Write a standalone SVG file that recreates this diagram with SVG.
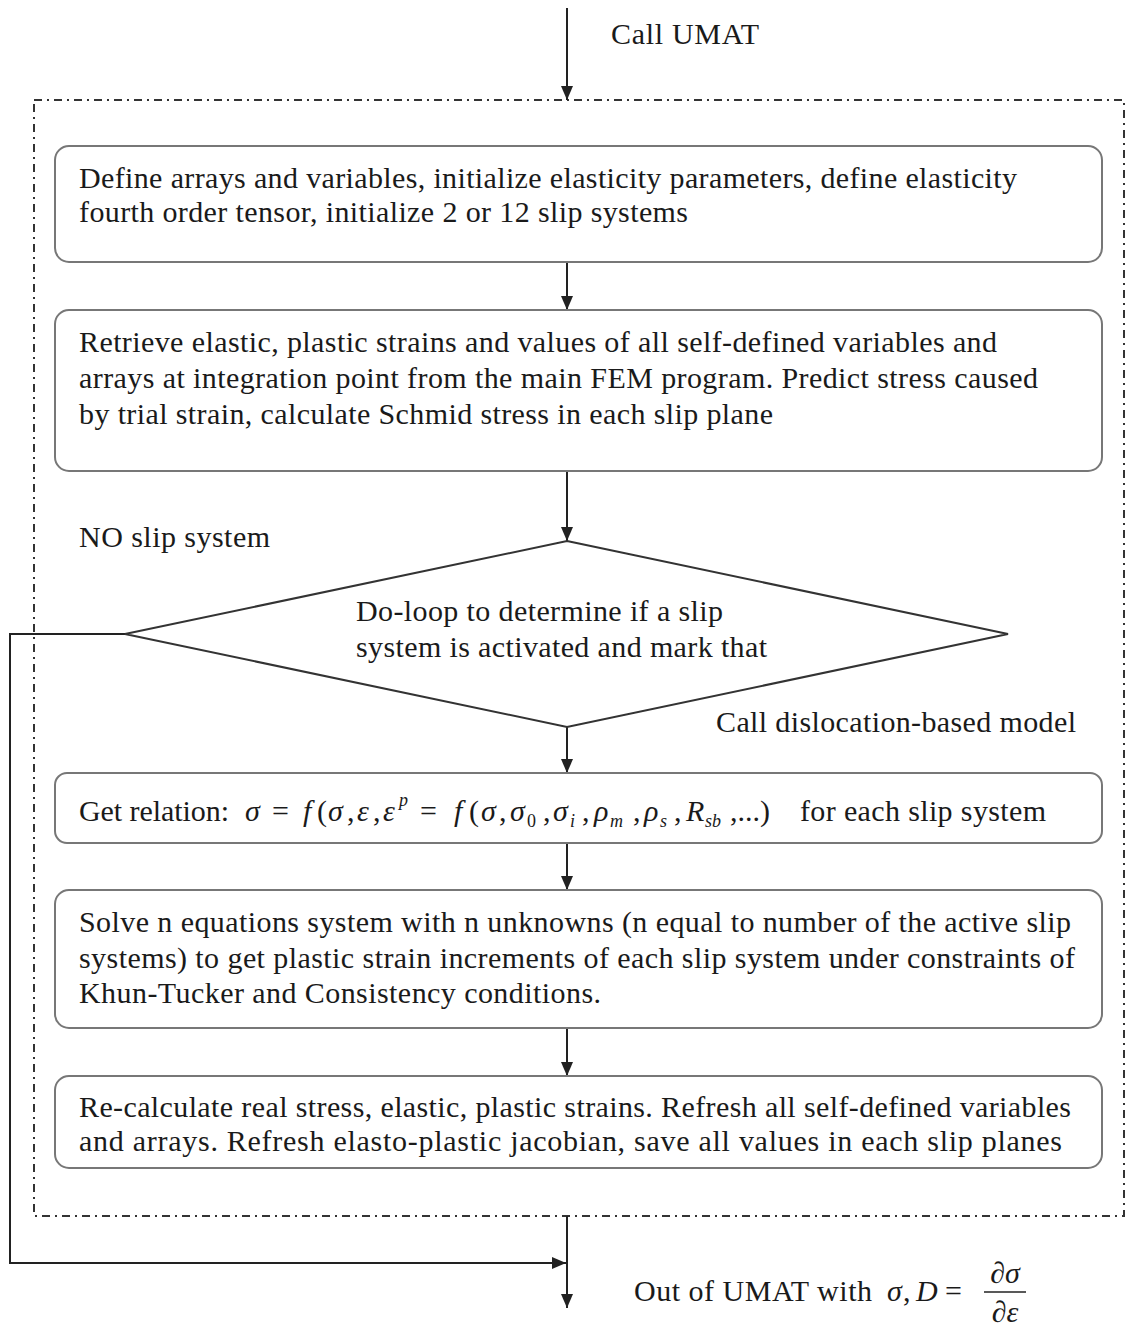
<svg xmlns="http://www.w3.org/2000/svg" width="1127" height="1330" viewBox="0 0 1127 1330">
<defs>
<marker id="ah2" viewBox="0 0 14 12" refX="14" refY="6" markerWidth="14" markerHeight="12" markerUnits="userSpaceOnUse" orient="auto">
<path d="M0,0 L14,6 L0,12 Z" fill="#222"/>
</marker>
</defs>
<style>
.t{font-family:"Liberation Serif","Times New Roman",serif;font-size:30px;fill:#1a1a1a}
.m{font-style:italic}
.s{font-size:18px}
.box{fill:#fff;stroke:#777;stroke-width:2}
.ln{fill:none;stroke:#222;stroke-width:2}
.frame{fill:none;stroke:#333;stroke-width:2;stroke-dasharray:8 5 2 5}
</style>
<rect width="1127" height="1330" fill="#fff"/>
<rect class="frame" x="34" y="100" width="1090" height="1116"/>
<g id="connectors">
<line class="ln" x1="567" y1="8" x2="567" y2="100" marker-end="url(#ah2)"/>
<line class="ln" x1="567" y1="262" x2="567" y2="310" marker-end="url(#ah2)"/>
<line class="ln" x1="567" y1="471" x2="567" y2="541" marker-end="url(#ah2)"/>
<line class="ln" x1="567" y1="727" x2="567" y2="773" marker-end="url(#ah2)"/>
<line class="ln" x1="567" y1="843" x2="567" y2="890" marker-end="url(#ah2)"/>
<line class="ln" x1="567" y1="1028" x2="567" y2="1076" marker-end="url(#ah2)"/>
<line class="ln" x1="567" y1="1216" x2="567" y2="1308" marker-end="url(#ah2)"/>
<polyline class="ln" points="125,634 10,634 10,1263 566,1263" marker-end="url(#ah2)"/>
</g>
<g id="call-umat"><text class="t" x="611" y="44" textLength="148" lengthAdjust="spacing">Call UMAT</text></g>
<g id="box1">
<rect class="box" x="55" y="146" width="1047" height="116" rx="14"/>
<text class="t" x="79" y="188" textLength="938" lengthAdjust="spacing">Define arrays and variables, initialize elasticity parameters, define elasticity</text>
<text class="t" x="79" y="222" textLength="609" lengthAdjust="spacing">fourth order tensor, initialize 2 or 12 slip systems</text>
</g>
<g id="box2">
<rect class="box" x="55" y="310" width="1047" height="161" rx="14"/>
<text class="t" x="79" y="352" textLength="918" lengthAdjust="spacing">Retrieve elastic, plastic strains and values of all self-defined variables and</text>
<text class="t" x="79" y="388" textLength="959" lengthAdjust="spacing">arrays at integration point from the main FEM program. Predict stress caused</text>
<text class="t" x="79" y="424" textLength="694" lengthAdjust="spacing">by trial strain, calculate Schmid stress in each slip plane</text>
</g>
<g id="no-slip"><text class="t" x="79" y="547" textLength="191" lengthAdjust="spacing">NO slip system</text></g>
<g id="diamond">
<polygon points="567,541 1008,634 567,727 125,634" fill="#fff" stroke="#333" stroke-width="2"/>
<text class="t" x="356" y="621" textLength="367" lengthAdjust="spacing">Do-loop to determine if a slip</text>
<text class="t" x="356" y="657" textLength="411" lengthAdjust="spacing">system is activated and mark that</text>
</g>
<g id="call-disl"><text class="t" x="716" y="732" textLength="360" lengthAdjust="spacing">Call dislocation-based model</text></g>
<g id="box3">
<rect class="box" x="55" y="773" width="1047" height="70" rx="12"/>
<text class="t" x="79" y="821" textLength="150" lengthAdjust="spacing">Get relation:</text>
<text class="t" y="821"><tspan class="m" x="245">σ</tspan><tspan x="272">=</tspan><tspan class="m" x="303">f</tspan><tspan x="317">(</tspan><tspan class="m" x="328">σ</tspan><tspan x="347">,</tspan><tspan class="m" x="357">ε</tspan><tspan x="373">,</tspan><tspan class="m" x="383">ε</tspan><tspan class="m s" x="399" y="806">p</tspan><tspan x="420" y="821">=</tspan><tspan class="m" x="454">f</tspan><tspan x="469">(</tspan><tspan class="m" x="481">σ</tspan><tspan x="499">,</tspan><tspan class="m" x="510">σ</tspan><tspan class="s" x="527" y="827">0</tspan><tspan x="543" y="821">,</tspan><tspan class="m" x="553">σ</tspan><tspan class="m s" x="570" y="827">i</tspan><tspan x="582" y="821">,</tspan><tspan class="m" x="594">ρ</tspan><tspan class="m s" x="610" y="827">m</tspan><tspan x="633" y="821">,</tspan><tspan class="m" x="644">ρ</tspan><tspan class="m s" x="660" y="827">s</tspan><tspan x="674" y="821">,</tspan><tspan class="m" x="686">R</tspan><tspan class="m s" x="705" y="827">sb</tspan><tspan x="730" y="821">,...)</tspan></text>
<text class="t" x="800" y="821" textLength="246" lengthAdjust="spacing">for each slip system</text>
</g>
<g id="box4">
<rect class="box" x="55" y="890" width="1047" height="138" rx="14"/>
<text class="t" x="79" y="932" textLength="992" lengthAdjust="spacing">Solve n equations system with n unknowns (n equal to number of the active slip</text>
<text class="t" x="79" y="968" textLength="996" lengthAdjust="spacing">systems) to get plastic strain increments of each slip system under constraints of</text>
<text class="t" x="79" y="1003" textLength="522" lengthAdjust="spacing">Khun-Tucker and Consistency conditions.</text>
</g>
<g id="box5">
<rect class="box" x="55" y="1076" width="1047" height="92" rx="14"/>
<text class="t" x="79" y="1117" textLength="992" lengthAdjust="spacing">Re-calculate real stress, elastic, plastic strains. Refresh all self-defined variables</text>
<text class="t" x="79" y="1151" textLength="983" lengthAdjust="spacing">and arrays. Refresh elasto-plastic jacobian, save all values in each slip planes</text>
</g>
<g id="out-umat">
<text class="t" x="634" y="1301" textLength="238" lengthAdjust="spacing">Out of UMAT with</text>
<text class="t" y="1301"><tspan class="m" x="887">σ</tspan><tspan x="903">,</tspan><tspan class="m" x="916">D</tspan><tspan x="945">=</tspan></text>
<text class="t" x="1005" y="1283" text-anchor="middle"><tspan class="m">∂σ</tspan></text>
<line x1="984" y1="1292" x2="1026" y2="1292" stroke="#222" stroke-width="1.5"/>
<text class="t" x="1005" y="1322" text-anchor="middle"><tspan class="m">∂ε</tspan></text>
</g>
</svg>
